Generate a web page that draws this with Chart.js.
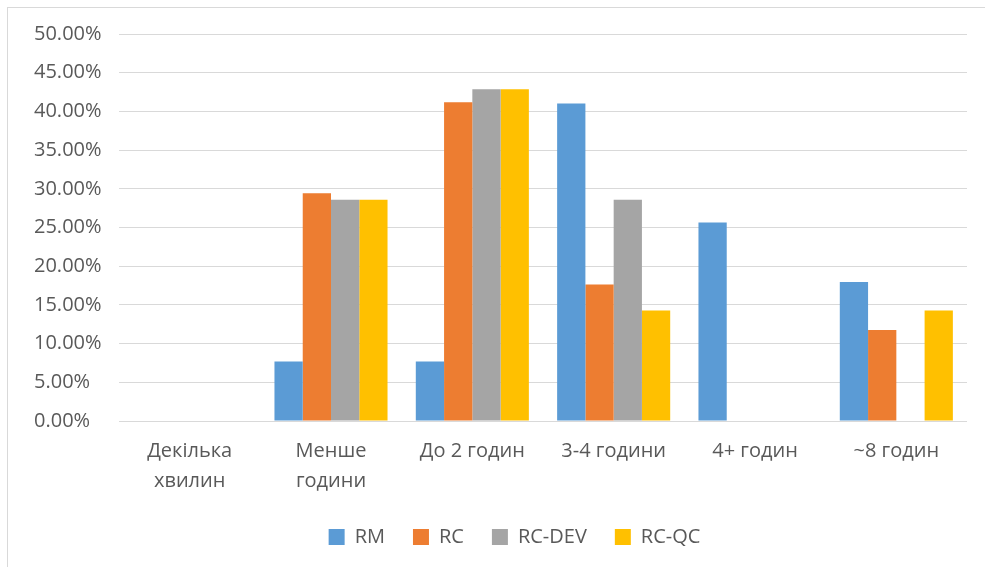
<!DOCTYPE html>
<html>
<head>
<meta charset="utf-8">
<script src="https://cdn.jsdelivr.net/npm/chart.js@4"></script>
<style>
html,body{margin:0;padding:0;background:#fff;}
#frame{position:absolute;left:7px;top:7px;width:978px;height:560px;border-left:1px solid #d9d9d9;border-top:1px solid #d9d9d9;box-sizing:border-box;}
#wrap{position:absolute;left:0;top:0;width:985px;height:567px;}
</style>
</head>
<body>
<div id="frame"></div>
<div id="wrap"><canvas id="c" width="985" height="567"></canvas></div>
<script>
const categories = [["Декілька","хвилин"],["Менше","години"],"До 2 годин","3-4 години","4+ годин","~8 годин"];
const seriesNames = ["RM","RC","RC-DEV","RC-QC"];
const rmValues    = [0, 7.69, 7.69, 41.03, 25.64, 17.95];
const rcValues    = [0, 29.41, 41.18, 17.65, 0, 11.76];
const rcDevValues = [0, 28.57, 42.86, 28.57, 0, 0];
const rcQcValues  = [0, 28.57, 42.86, 14.29, 0, 14.29];
const colors = ["#5B9BD5","#ED7D31","#A5A5A5","#FFC000"];
const yTickMax = 50, yTickStep = 5;

const seriesValues = [rmValues, rcValues, rcDevValues, rcQcValues];
const FONT = "'Open Sans', 'Liberation Sans', sans-serif";

const legendShift = {
  id: 'legendShift',
  afterLayout(chart) {
    if (chart.legend) { chart.legend.left += 14; chart.legend.right += 14; }
  }
};

new Chart(document.getElementById('c'), {
  type: 'bar',
  data: {
    labels: categories,
    datasets: seriesNames.map((n,i)=>({
      label: n,
      data: seriesValues[i],
      backgroundColor: colors[i],
      borderWidth: 0,
      categoryPercentage: 0.8,
      barPercentage: 1.0
    }))
  },
  plugins: [legendShift],
  options: {
    responsive: false,
    animation: false,
    layout: { padding: { left: 34, right: 18, top: 34, bottom: 10 } },
    plugins: {
      tooltip: { enabled: false },
      legend: {
        position: 'bottom',
        labels: {
          color: '#595959',
          font: { family: FONT, size: 20 },
          boxWidth: 16, boxHeight: 16,
          padding: 28
        }
      }
    },
    scales: {
      x: {
        grid: { display: false },
        border: { display: false },
        afterFit: s => { s.height -= 4; },
        ticks: {
          color: '#595959',
          font: { family: FONT, size: 20, lineHeight: 1.5 },
          padding: 7,
          maxRotation: 0, autoSkip: false
        }
      },
      y: {
        min: 0, max: yTickMax,
        afterFit: s => { s.width = 85; },
        grid: { color: '#d9d9d9', lineWidth: 1, drawTicks: false },
        border: { display: false },
        ticks: {
          stepSize: yTickStep,
          crossAlign: 'far',
          color: '#595959',
          font: { family: FONT, size: 20 },
          padding: 0,
          callback: v => v.toFixed(2) + '%'
        }
      }
    }
  }
});
</script>
</body>
</html>
